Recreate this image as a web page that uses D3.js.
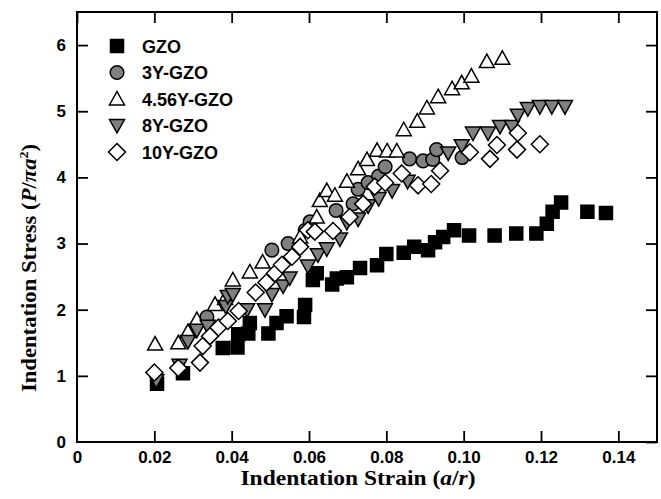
<!DOCTYPE html>
<html>
<head>
<meta charset="utf-8">
<script src="https://cdn.jsdelivr.net/npm/d3@7"></script>
<style>
  body { margin: 0; background: #fff; }
  svg { display: block; }
</style>
</head>
<body>
<svg id="chart" width="661" height="499"></svg>
<script>
const seriesNames = ["GZO", "3Y-GZO", "4.56Y-GZO", "8Y-GZO", "10Y-GZO"];
const xTicks = [0, 0.02, 0.04, 0.06, 0.08, 0.10, 0.12, 0.14];
const yTicks = [0, 1, 2, 3, 4, 5, 6];

// [strain, stress]
const gzo = [[0.0207,0.88],[0.0274,1.04],[0.0377,1.42],[0.0415,1.43],[0.0417,1.63],[0.0443,1.64],[0.0447,1.8],
  [0.0495,1.64],[0.0516,1.8],[0.0542,1.9],[0.0587,1.89],[0.059,2.07],[0.061,2.45],[0.062,2.55],[0.066,2.38],
  [0.0672,2.47],[0.0698,2.49],[0.0732,2.63],[0.0776,2.67],[0.0800,2.84],[0.0845,2.86],[0.0872,2.95],[0.0908,2.9],
  [0.0926,3.02],[0.0947,3.1],[0.0975,3.2],[0.1014,3.12],[0.108,3.12],[0.1136,3.15],[0.1188,3.15],[0.1215,3.3],
  [0.123,3.48],[0.1252,3.62],[0.132,3.48],[0.1368,3.46]];
const y3 = [[0.0336,1.89],[0.0504,2.9],[0.0546,3.0],[0.059,3.2],[0.0603,3.33],[0.067,3.5],[0.0714,3.6],[0.0727,3.82],
  [0.0753,3.92],[0.078,4.02],[0.0797,4.16],[0.086,4.28],[0.0895,4.25],[0.092,4.27],[0.093,4.42],[0.0996,4.3]];
const y456 = [[0.0202,1.48],[0.0262,1.5],[0.0287,1.67],[0.031,1.85],[0.0357,2.08],[0.0383,2.17],[0.0403,2.45],
  [0.0447,2.57],[0.048,2.72],[0.0577,3.1],[0.062,3.4],[0.0628,3.65],[0.0646,3.8],[0.0667,3.73],[0.0698,3.94],
  [0.0727,4.13],[0.075,4.27],[0.0776,4.41],[0.0802,4.4],[0.0827,4.4],[0.0845,4.72],[0.088,4.85],[0.0905,5.05],
  [0.0934,5.22],[0.097,5.34],[0.0995,5.43],[0.102,5.53],[0.106,5.75],[0.110,5.8]];
const y8 = [[0.0205,0.93],[0.0265,1.16],[0.0287,1.52],[0.031,1.69],[0.0338,1.75],[0.0385,2.05],[0.039,2.2],
  [0.0403,2.23],[0.044,2.0],[0.0486,2.0],[0.0504,2.23],[0.0533,2.36],[0.055,2.48],[0.0597,2.66],[0.0623,2.83],
  [0.0646,2.92],[0.068,3.07],[0.0698,3.32],[0.0727,3.37],[0.0753,3.57],[0.078,3.68],[0.0815,3.8],[0.0855,3.94],
  [0.096,4.37],[0.0995,4.48],[0.1024,4.67],[0.1063,4.67],[0.1094,4.77],[0.1125,4.77],[0.114,4.94],[0.1166,5.04],
  [0.1197,5.07],[0.1228,5.07],[0.1262,5.07]];
const y10 = [[0.02,1.05],[0.0262,1.12],[0.0318,1.2],[0.0325,1.45],[0.0344,1.6],[0.0366,1.73],[0.039,1.83],
  [0.0418,1.98],[0.0462,2.26],[0.049,2.41],[0.0512,2.55],[0.053,2.68],[0.0556,2.8],[0.0577,2.95],[0.0597,3.2],
  [0.0615,3.18],[0.0662,3.19],[0.0705,3.4],[0.074,3.6],[0.077,3.86],[0.0797,3.92],[0.084,4.06],[0.0882,3.88],
  [0.0916,3.9],[0.0939,4.1],[0.1016,4.38],[0.1068,4.28],[0.1086,4.49],[0.1138,4.42],[0.114,4.67],[0.1197,4.5]];

const size = { width: 661, height: 499, left: 77, right: 4, top: 12, bottom: 57 };
const svg = d3.select("#chart");

const xScale = d3.scaleLinear().domain([0, 0.15])
  .range([size.left, size.width - size.right]);
const yScale = d3.scaleLinear().domain([0, 6.5])
  .range([size.height - size.bottom, size.top]);

// marker shapes
function shape(type) {
  if (type === "square") return "M-6.5,-6.5H6.5V6.5H-6.5Z";
  if (type === "circle") return "M-6.8,0A6.8,6.8 0 1,0 6.8,0A6.8,6.8 0 1,0 -6.8,0Z";
  if (type === "up") return "M0,-7.5L7.5,6L-7.5,6Z";
  if (type === "down") return "M0,7.5L7.5,-6L-7.5,-6Z";
  return "M0,-8.5L8.5,0L0,8.5L-8.5,0Z";
}
const series = [
  { name: seriesNames[0], data: gzo, type: "square", fill: "#000" },
  { name: seriesNames[1], data: y3, type: "circle", fill: "#808080" },
  { name: seriesNames[2], data: y456, type: "up", fill: "#fff" },
  { name: seriesNames[3], data: y8, type: "down", fill: "#808080" },
  { name: seriesNames[4], data: y10, type: "diamond", fill: "#fff" }
];

const plotW = size.width - size.left - size.right;
const plotH = size.height - size.top - size.bottom;
const tickLen = 11;

// axes (ticks inward on all four sides)
const bottomAxis = svg.append("g")
  .attr("transform", `translate(0, ${size.height - size.bottom})`)
  .call(d3.axisBottom(xScale).tickValues(xTicks).tickSize(-tickLen).tickPadding(9)
    .tickFormat(d => d === 0 ? "0" : d3.format(".2f")(d)));
svg.append("g")
  .attr("transform", `translate(0, ${size.top})`)
  .call(d3.axisTop(xScale).tickValues(xTicks).tickSize(-tickLen).tickFormat(""));
const leftAxis = svg.append("g")
  .attr("transform", `translate(${size.left}, 0)`)
  .call(d3.axisLeft(yScale).tickValues(yTicks).tickSize(-tickLen).tickPadding(8)
    .tickFormat(d3.format("d")));
svg.append("g")
  .attr("transform", `translate(${size.width - size.right}, 0)`)
  .call(d3.axisRight(yScale).tickValues(yTicks).tickSize(-tickLen).tickFormat(""));

svg.selectAll(".domain").remove();
svg.selectAll(".tick line").attr("stroke", "#000").attr("stroke-width", 1.8);
svg.selectAll(".tick text")
  .attr("font-family", "Liberation Sans, Arial, sans-serif")
  .attr("font-weight", "bold")
  .attr("font-size", 17)
  .attr("fill", "#000");
bottomAxis.selectAll(".tick line").filter(d => d === 0).remove();
leftAxis.selectAll(".tick line").filter(d => d === 0).remove();
leftAxis.selectAll(".tick text").attr("dx", "-3");

svg.append("rect")
  .attr("x", size.left).attr("y", size.top)
  .attr("width", plotW).attr("height", plotH)
  .attr("fill", "none").attr("stroke", "#000").attr("stroke-width", 2);

// points
series.forEach(s => {
  svg.append("g").selectAll("path")
    .data(s.data)
    .join("path")
    .attr("transform", d => `translate(${xScale(d[0])}, ${yScale(d[1])})`)
    .attr("d", shape(s.type))
    .attr("fill", s.fill)
    .attr("stroke", "#000")
    .attr("stroke-width", 1.5);
});

// legend
const legend = svg.append("g").attr("transform", "translate(117, 46)");
series.forEach((s, i) => {
  const row = legend.append("g").attr("transform", `translate(0, ${i * 26.5})`);
  row.append("path")
    .attr("d", shape(s.type))
    .attr("fill", s.fill)
    .attr("stroke", "#000")
    .attr("stroke-width", 1.5);
  row.append("text")
    .attr("x", 25).attr("y", 6.5)
    .attr("font-family", "Liberation Sans, Arial, sans-serif")
    .attr("font-weight", "bold")
    .attr("font-size", 18)
    .attr("fill", "#000")
    .text(s.name);
});

// axis titles
const xTitle = svg.append("text")
  .attr("transform", "translate(358, 485) scale(1.12, 1)")
  .attr("text-anchor", "middle")
  .attr("font-family", "Liberation Serif, Times New Roman, serif")
  .attr("font-weight", "bold")
  .attr("font-size", 21)
  .attr("fill", "#000");
xTitle.append("tspan").text("Indentation Strain (");
xTitle.append("tspan").attr("font-style", "italic").text("a");
xTitle.append("tspan").text("/");
xTitle.append("tspan").attr("font-style", "italic").text("r");
xTitle.append("tspan").text(")");

const yTitle = svg.append("text")
  .attr("transform", "translate(36, 268) rotate(-90) scale(1.08, 1)")
  .attr("text-anchor", "middle")
  .attr("font-family", "Liberation Serif, Times New Roman, serif")
  .attr("font-weight", "bold")
  .attr("font-size", 21)
  .attr("fill", "#000");
yTitle.append("tspan").text("Indentation Stress (");
yTitle.append("tspan").attr("font-style", "italic").text("P");
yTitle.append("tspan").text("/");
yTitle.append("tspan").attr("font-style", "italic").text("πa");
yTitle.append("tspan").attr("font-size", 13).attr("dy", -8).text("2");
yTitle.append("tspan").attr("dy", 8).text(")");
</script>
</body>
</html>
